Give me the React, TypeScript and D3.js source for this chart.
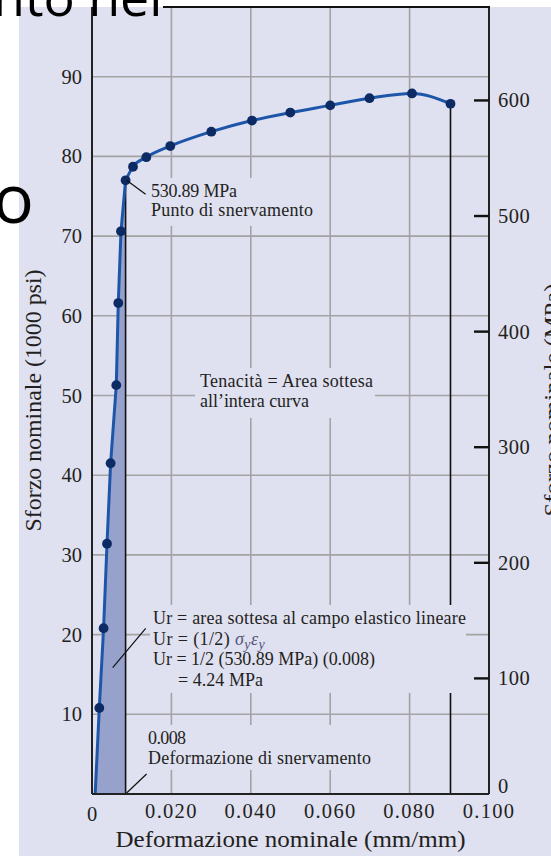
import React from 'react';
import * as d3 from 'd3';

// ---- data ----
const strain = [0.0008, 0.00184, 0.00292, 0.00378, 0.00469, 0.00612, 0.00662, 0.0073, 0.00846, 0.01033, 0.01368, 0.01972, 0.03005, 0.0403, 0.04995, 0.06, 0.0699, 0.0806, 0.0903];
const stressKsi = [0, 10.8, 20.8, 31.4, 41.5, 51.3, 61.6, 70.6, 77.0, 78.7, 79.9, 81.3, 83.1, 84.5, 85.5, 86.4, 87.3, 87.9, 86.6];
const yieldIndex = 8;
const xTicks = [0, 0.02, 0.04, 0.06, 0.08, 0.1];
const xTickLabels = ['0', '0.020', '0.040', '0.060', '0.080', '0.100'];
const yTicksKsi = [10, 20, 30, 40, 50, 60, 70, 80, 90];
const yTicksMPa = [0, 100, 200, 300, 400, 500, 600];
const KSI_TO_MPA = 6.894757;

const W = 551;
const H = 856;
const BG = '#dfe0f0';
const TXT = '#231f20';
const SERIF = '"Liberation Serif", "Times New Roman", serif';

export default function App() {
  const left = 92, right = 489, top = 7, bottom = 794;
  const x = d3.scaleLinear().domain([0, 0.1]).range([left, right]);
  const y = d3.scaleLinear().domain([0, 90]).range([bottom, 76.7]);
  const yM = (mpa: number) => y(mpa / KSI_TO_MPA);

  const pts = strain.map((s, i) => [s, stressKsi[i]] as [number, number]);
  const elastic = pts.slice(0, yieldIndex + 1);
  const plastic = pts.slice(yieldIndex);
  const linear = d3.line<[number, number]>().x(d => x(d[0])).y(d => y(d[1]));
  const smooth = d3.line<[number, number]>().x(d => x(d[0])).y(d => y(d[1])).curve(d3.curveMonotoneX);
  const fillPts: [number, number][] = [...elastic, [strain[yieldIndex], 0]];

  const yX = x(strain[yieldIndex]);
  const yY = y(stressKsi[yieldIndex]);
  const last = pts[pts.length - 1];
  const fX = x(last[0]);
  const fY = y(last[1]);

  const boxes = [
    { x: 143, y: 178, w: 177, h: 48 },
    { x: 195, y: 368, w: 180, h: 50 },
    { x: 150, y: 605, w: 316, h: 88 },
    { x: 145, y: 725, w: 230, h: 45 },
  ];

  const A = 18; // annotation font size
  const TK = 20.5;

  return (
    <svg width={W} height={H} style={{ position: 'absolute', left: 0, top: 0, background: '#fff' }}>
      <rect x={19} y={top} width={W - 19} height={H - top} fill={BG} />

      {/* grid */}
      {yTicksKsi.map(v => (
        <line key={'gy' + v} x1={left} x2={right} y1={y(v)} y2={y(v)} stroke="#a3a3a3" strokeWidth={1.6} />
      ))}
      {xTicks.slice(1, -1).map(v => (
        <line key={'gx' + v} x1={x(v)} x2={x(v)} y1={top} y2={bottom} stroke="#a3a3a3" strokeWidth={1.6} />
      ))}

      {/* elastic area */}
      <path d={linear(fillPts) + 'Z'} fill="#97a2cc" />

      {/* vertical markers */}
      <line x1={yX} x2={yX} y1={yY} y2={bottom} stroke="#111" strokeWidth={1.6} />
      <line x1={fX} x2={fX} y1={fY} y2={bottom} stroke="#111" strokeWidth={1.6} />

      {/* label backgrounds */}
      {boxes.map((b, i) => (
        <rect key={'b' + i} x={b.x} y={b.y} width={b.w} height={b.h} fill={BG} />
      ))}

      {/* curve */}
      <path d={linear(elastic) || ''} fill="none" stroke="#1d56a8" strokeWidth={3} strokeLinejoin="round" />
      <path d={smooth(plastic) || ''} fill="none" stroke="#1d56a8" strokeWidth={3} />
      {pts.slice(1).map((p, i) => (
        <circle key={'p' + i} cx={x(p[0])} cy={y(p[1])} r={4.9} fill="#0c2b65" />
      ))}

      {/* axes */}
      <line x1={left} x2={left} y1={top} y2={bottom} stroke="#222" strokeWidth={2} />
      <line x1={right} x2={right} y1={top} y2={bottom} stroke="#222" strokeWidth={2} />
      <line x1={left} x2={right} y1={bottom} y2={bottom} stroke="#222" strokeWidth={2} />
      <line x1={163} x2={right + 1} y1={top} y2={top} stroke="#111" strokeWidth={2} />
      {yTicksMPa.filter(v => v > 0).map(v => (
        <line key={'tm' + v} x1={right - 15} x2={right} y1={yM(v)} y2={yM(v)} stroke="#111" strokeWidth={2.4} />
      ))}

      <g fontFamily={SERIF} fill={TXT}>
        {yTicksKsi.map(v => (
          <text key={'ly' + v} x={82} y={y(v) + 7} fontSize={TK} textAnchor="end">{v}</text>
        ))}
        {yTicksMPa.map(v => (
          <text key={'ry' + v} x={498} y={v === 0 ? yM(v) - 1 : yM(v) + 7} fontSize={TK} letterSpacing={0.5}>{v}</text>
        ))}
        {xTicks.map((v, i) => (
          <text key={'lx' + v} x={x(v)} y={v === 0 ? 820.5 : 817.5} fontSize={TK} textAnchor="middle" letterSpacing={v === 0 ? 0 : 1.3}>{xTickLabels[i]}</text>
        ))}
        <text x={(left + right) / 2 - 175} y={847} fontSize={22.5} textLength={350} lengthAdjust="spacingAndGlyphs">Deformazione nominale (mm/mm)</text>
        <text transform={`translate(41,${(top + bottom) / 2 + 131}) rotate(-90)`} fontSize={22.5} textLength={262} lengthAdjust="spacingAndGlyphs">Sforzo nominale (1000 psi)</text>
        <text transform={`translate(560,${(top + bottom) / 2 + 116}) rotate(-90)`} fontSize={22.5} textLength={233} lengthAdjust="spacingAndGlyphs">Sforzo nominale (MPa)</text>

        {/* annotations */}
        <line x1={yX + 1} x2={yX + 20} y1={yY} y2={yY + 14} stroke="#111" strokeWidth={1.2} />
        <text x={151} y={197} fontSize={A} textLength={86}>530.89 MPa</text>
        <text x={151} y={216} fontSize={A} textLength={162}>Punto di snervamento</text>

        <text x={200} y={387} fontSize={A} textLength={173}>Tenacità = Area sottesa</text>
        <text x={200} y={407} fontSize={A} textLength={109}>all’intera curva</text>

        <line x1={112.7} x2={145.7} y1={667.7} y2={628.3} stroke="#111" strokeWidth={1.2} />
        <text x={153} y={624} fontSize={A} textLength={313}>Ur = area sottesa al campo elastico lineare</text>
        <text x={153} y={645} fontSize={A} letterSpacing={0.4}>
          Ur = (1/2) <tspan fontStyle="italic" fill="#55557a">σ</tspan>
          <tspan fontStyle="italic" fill="#55557a" fontSize={14} dy={4}>y</tspan>
          <tspan fontStyle="italic" fill="#55557a" dy={-4}>ε</tspan>
          <tspan fontStyle="italic" fill="#55557a" fontSize={14} dy={4}>y</tspan>
        </text>
        <text x={153} y={665} fontSize={A} textLength={222}>Ur = 1/2 (530.89 MPa) (0.008)</text>
        <text x={178} y={686} fontSize={A} textLength={85}>= 4.24 MPa</text>

        <line x1={yX + 1} x2={yX + 21} y1={bottom - 1} y2={bottom - 20} stroke="#111" strokeWidth={1.2} />
        <text x={148} y={744} fontSize={A} textLength={38}>0.008</text>
        <text x={148} y={764} fontSize={A} textLength={223}>Deformazione di snervamento</text>
      </g>

      {/* slide text overlapping the picture */}
      <g fontFamily='"Open Sans", sans-serif' fill="#000">
        <text x={-7} y={16} fontSize={52}>nto nel</text>
        <text x={-7} y={223} fontSize={68}>o</text>
      </g>
    </svg>
  );
}
